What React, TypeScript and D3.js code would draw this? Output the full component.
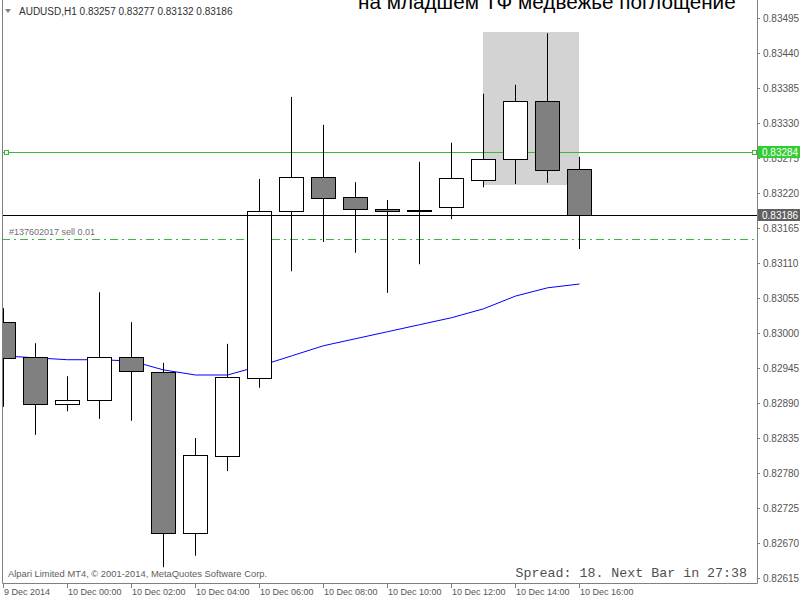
import React, { useEffect, useRef } from 'react';
import * as d3 from 'd3';

// hourly bars, 9 Dec 22:00 .. 10 Dec 16:00
const times = [
  '2014-12-09T22:00', '2014-12-09T23:00', '2014-12-10T00:00', '2014-12-10T01:00',
  '2014-12-10T02:00', '2014-12-10T03:00', '2014-12-10T04:00', '2014-12-10T05:00',
  '2014-12-10T06:00', '2014-12-10T07:00', '2014-12-10T08:00', '2014-12-10T09:00',
  '2014-12-10T10:00', '2014-12-10T11:00', '2014-12-10T12:00', '2014-12-10T13:00',
  '2014-12-10T14:00', '2014-12-10T15:00', '2014-12-10T16:00'
];
const opens = [0.83017, 0.82962, 0.82888, 0.82895, 0.82962, 0.82939, 0.82686, 0.82807, 0.82929, 0.83192, 0.83245, 0.83214, 0.83195, 0.83192, 0.83198, 0.83240, 0.83273, 0.83365, 0.83257];
const highs = [0.83039, 0.82984, 0.82932, 0.83064, 0.83017, 0.82953, 0.82835, 0.82983, 0.83242, 0.83371, 0.83327, 0.83237, 0.83209, 0.83269, 0.83299, 0.83376, 0.83390, 0.83471, 0.83277];
const lows = [0.82884, 0.82840, 0.82877, 0.82865, 0.82862, 0.82632, 0.82650, 0.82783, 0.82914, 0.83097, 0.83143, 0.83126, 0.83063, 0.83108, 0.83179, 0.83229, 0.83234, 0.83236, 0.83132];
const closes = [0.82961, 0.82888, 0.82895, 0.82962, 0.82940, 0.82686, 0.82808, 0.82931, 0.83192, 0.83245, 0.83212, 0.83195, 0.83192, 0.83193, 0.83244, 0.83273, 0.83365, 0.83256, 0.83186];
const maValues = [0.82964, 0.82961, 0.82958, 0.82958, 0.82956, 0.82942, 0.82934, 0.82934, 0.82948, 0.82964, 0.82980, 0.82991, 0.83002, 0.83013, 0.83024, 0.83038, 0.83058, 0.83071, 0.83077];

const priceTicks = [0.82615, 0.82670, 0.82725, 0.82780, 0.82835, 0.82890, 0.82945, 0.83000, 0.83055, 0.83110, 0.83165, 0.83220, 0.83275, 0.83330, 0.83385, 0.83440, 0.83495];
const timeTicks = ['2014-12-09T22:00', '2014-12-10T00:00', '2014-12-10T02:00', '2014-12-10T04:00', '2014-12-10T06:00', '2014-12-10T08:00', '2014-12-10T10:00', '2014-12-10T12:00', '2014-12-10T14:00', '2014-12-10T16:00'];
const timeLabels = ['9 Dec 2014', '10 Dec 00:00', '10 Dec 02:00', '10 Dec 04:00', '10 Dec 06:00', '10 Dec 08:00', '10 Dec 10:00', '10 Dec 12:00', '10 Dec 14:00', '10 Dec 16:00'];

const bidPrice = 0.83186;
const alertPrice = 0.83284;
const orderPrice = 0.83148;
const orderLabel = '#137602017 sell 0.01';
const zoneFrom = '2014-12-10T13:00';
const zoneTo = '2014-12-10T16:00';
const zoneHigh = 0.83473;
const zoneLow = 0.83233;

const title = 'на младшем ТФ медвежье поглощение';
const header = 'AUDUSD,H1  0.83257 0.83277 0.83132 0.83186';

const App = () => {
  const ref = useRef<SVGSVGElement>(null);

  useEffect(() => {
    document.body.style.margin = '0';
    const svg = d3.select(ref.current);
    svg.selectAll('*').remove();

    const left = 2, right = 757, top = 0, bottom = 583;
    const parse = d3.timeParse('%Y-%m-%dT%H:%M');
    const dates = times.map(t => parse(t) as Date);

    const x = d3.scaleTime()
      .domain([dates[0], dates[dates.length - 1]])
      .range([3, 579]);
    const y = d3.scaleLinear()
      .domain([0.82615, 0.83495])
      .range([578, 18]);
    const px = (d: Date) => Math.round(x(d));
    const py = (v: number) => Math.round(y(v));

    svg.append('rect').attr('width', 800).attr('height', 600).attr('fill', 'white');

    svg.append('clipPath').attr('id', 'plot')
      .append('rect').attr('x', left).attr('y', top).attr('width', right - left).attr('height', bottom - top);
    const g = svg.append('g').attr('clip-path', 'url(#plot)');

    // title (cut by the top edge, as in the terminal)
    g.append('text')
      .attr('x', 358).attr('y', 9)
      .attr('font-family', 'Liberation Sans, Arial, sans-serif')
      .attr('font-size', 20.7)
      .attr('fill', 'black')
      .text(title);

    // highlight zone
    const zx1 = px(parse(zoneFrom) as Date), zx2 = px(parse(zoneTo) as Date);
    g.append('rect')
      .attr('x', zx1).attr('y', py(zoneHigh))
      .attr('width', zx2 - zx1).attr('height', py(zoneLow) - py(zoneHigh))
      .attr('fill', '#d3d3d3');

    // moving average
    const line = d3.line<number>()
      .x((d, i) => px(dates[i]) + 0.5)
      .y(d => y(d));
    g.append('path')
      .attr('d', line(maValues))
      .attr('fill', 'none')
      .attr('stroke', '#0000ff')
      .attr('stroke-width', 1);

    // level lines
    g.append('line')
      .attr('x1', left).attr('x2', right)
      .attr('y1', py(alertPrice) + 0.5).attr('y2', py(alertPrice) + 0.5)
      .attr('stroke', '#3cb83c');
    g.append('line')
      .attr('x1', left).attr('x2', right)
      .attr('y1', py(orderPrice) + 0.5).attr('y2', py(orderPrice) + 0.5)
      .attr('stroke', '#3cb83c')
      .attr('stroke-dasharray', '8,4,2,4');
    g.append('text')
      .attr('x', 9).attr('y', py(orderPrice) - 4)
      .attr('font-family', 'Liberation Sans, Arial, sans-serif')
      .attr('font-size', 9)
      .attr('fill', '#707070')
      .text(orderLabel);

    // candles
    const candles = dates.map((d, i) => ({ d, o: opens[i], h: highs[i], l: lows[i], c: closes[i] }));
    const cg = g.selectAll('.candle').data(candles).enter().append('g').attr('class', 'candle');
    cg.append('line')
      .attr('x1', d => px(d.d) + 0.5).attr('x2', d => px(d.d) + 0.5)
      .attr('y1', d => y(d.h)).attr('y2', d => y(d.l))
      .attr('stroke', 'black');
    cg.append('rect')
      .attr('x', d => px(d.d) - 11.5)
      .attr('width', 24)
      .attr('y', d => Math.round(y(Math.max(d.o, d.c))) + 0.5)
      .attr('height', d => Math.max(0.5, Math.abs(Math.round(y(d.o)) - Math.round(y(d.c)))))
      .attr('fill', d => d.c >= d.o ? 'white' : '#808080')
      .attr('stroke', 'black');

    // bid line
    g.append('line')
      .attr('x1', left).attr('x2', right)
      .attr('y1', py(bidPrice) + 0.5).attr('y2', py(bidPrice) + 0.5)
      .attr('stroke', 'black');

    // alert markers
    [4, 752].forEach(mx => {
      g.append('rect')
        .attr('x', mx + 0.5).attr('y', py(alertPrice) - 1.5)
        .attr('width', 4).attr('height', 4)
        .attr('fill', 'white').attr('stroke', '#3cb83c');
    });

    // header
    svg.append('path').attr('d', 'M5,9 L11,9 L8,13 Z').attr('fill', '#808080');
    svg.append('text')
      .attr('x', 19).attr('y', 15)
      .attr('font-family', 'Liberation Sans, Arial, sans-serif')
      .attr('font-size', 10)
      .attr('fill', '#303030')
      .text(header);

    // footer texts
    svg.append('text')
      .attr('x', 8).attr('y', 577)
      .attr('font-family', 'Liberation Sans, Arial, sans-serif')
      .attr('font-size', 9.4)
      .attr('fill', '#606060')
      .text('Alpari Limited MT4, © 2001-2014, MetaQuotes Software Corp.');
    svg.append('text')
      .attr('x', 747).attr('y', 577)
      .attr('text-anchor', 'end')
      .attr('font-family', 'Liberation Mono, Courier New, monospace')
      .attr('font-size', 13.3)
      .attr('fill', '#505050')
      .text('Spread: 18. Next Bar in 27:38');

    // frame
    svg.append('path')
      .attr('d', `M${left + 0.5},${top} V${bottom + 0.5} H${right + 0.5} V${top}`)
      .attr('fill', 'none')
      .attr('stroke', '#808080');

    // price axis
    const pa = svg.append('g');
    priceTicks.forEach(p => {
      pa.append('line')
        .attr('x1', right).attr('x2', right + 3)
        .attr('y1', py(p) + 0.5).attr('y2', py(p) + 0.5)
        .attr('stroke', '#808080');
      pa.append('text')
        .attr('x', 763).attr('y', py(p)).attr('dy', '0.35em')
        .attr('font-family', 'Liberation Sans, Arial, sans-serif')
        .attr('font-size', 10)
        .attr('fill', '#555')
        .text(d3.format('.5f')(p));
    });

    // price labels
    const priceBox = (p: number, fill: string) => {
      pa.append('rect')
        .attr('x', 758).attr('y', py(p) - 6)
        .attr('width', 42).attr('height', 12)
        .attr('fill', fill);
      pa.append('text')
        .attr('x', 762).attr('y', py(p)).attr('dy', '0.35em')
        .attr('font-family', 'Liberation Sans, Arial, sans-serif')
        .attr('font-size', 10)
        .attr('fill', 'white')
        .text(d3.format('.5f')(p));
    };
    priceBox(alertPrice, '#32cd32');
    priceBox(bidPrice, '#606060');

    // time axis
    const ta = svg.append('g');
    timeTicks.forEach((t, i) => {
      const tx = px(parse(t) as Date);
      ta.append('line')
        .attr('x1', tx + 0.5).attr('x2', tx + 0.5)
        .attr('y1', bottom).attr('y2', bottom + 5)
        .attr('stroke', '#808080');
      ta.append('text')
        .attr('x', tx + 1).attr('y', 595)
        .attr('font-family', 'Liberation Sans, Arial, sans-serif')
        .attr('font-size', 9)
        .attr('fill', '#555')
        .text(timeLabels[i]);
    });
  }, []);

  return <svg ref={ref} width={800} height={600} style={{ display: 'block' }}></svg>;
};

export default App;
